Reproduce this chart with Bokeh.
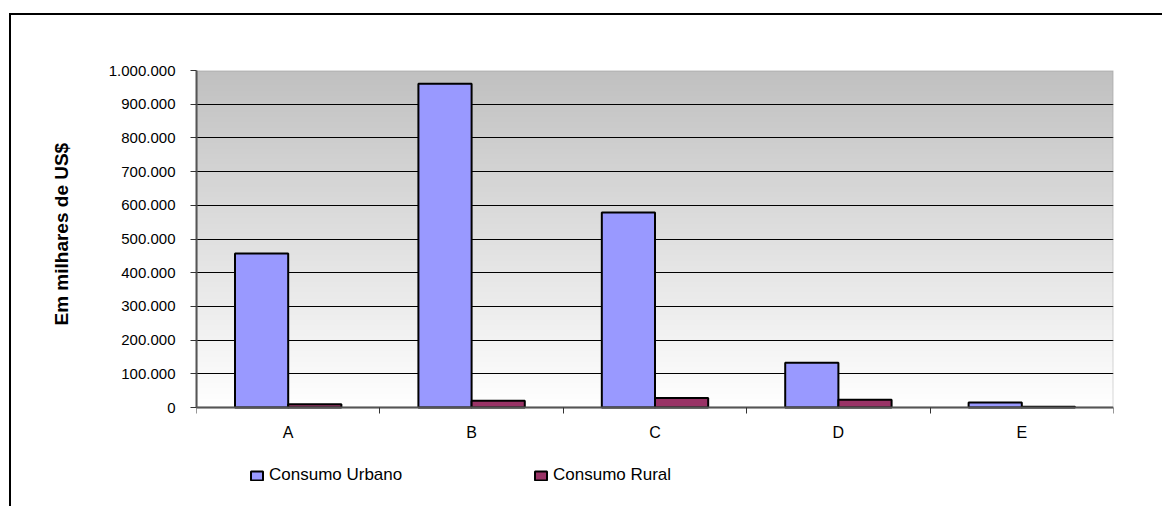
import numpy as np
from bokeh.plotting import figure
from bokeh.models import (FixedTicker, Legend, LegendItem, LinearColorMapper,
                          ColumnDataSource, BoxAnnotation, Title)
from bokeh.embed import file_html
from bokeh.resources import INLINE

# ---- data ----
categories = ["A", "B", "C", "D", "E"]
consumo_urbano = [457000, 961000, 579000, 133000, 15000]
consumo_rural = [10000, 20000, 28000, 23000, 2000]
y_ticks = list(range(0, 1000001, 100000))
y_tick_labels = [f"{v:,}".replace(",", ".") for v in y_ticks]
y_title = "Em milhares de US$"
series_names = ["Consumo Urbano", "Consumo Rural"]

FONT = "Liberation Sans"
n = len(categories)
y_max = 1000000
centers = np.arange(n) + 0.5
bar_w = 0.29
off = bar_w / 2

# layout (pixels)
W, H = 1153, 493
B_LEFT, B_RIGHT, B_TOP, B_BOTTOM = 185, 51, 55, 20
FRAME_H = H - B_TOP - B_BOTTOM
PLOT_H = 337                            # height of the 0..y_max plot area
y_start = -(FRAME_H - PLOT_H) / PLOT_H * y_max

p = figure(width=W, height=H, output_backend="svg", toolbar_location=None,
           x_range=(0, n), y_range=(y_start, y_max),
           x_axis_location="above",
           min_border_left=B_LEFT, min_border_right=B_RIGHT,
           min_border_top=B_TOP, min_border_bottom=B_BOTTOM,
           background_fill_color="white", border_fill_color="white")
p.margin = (13, 0, 0, 9)
p.styles = {"border-left": "2px solid black", "border-top": "2px solid black"}

# gradient plot-area background
grad = np.linspace(0, 1, 256).reshape(256, 1)
grays = ["#" + f"{int(round(255 - (255 - 192) * t)):02x}" * 3 for t in np.linspace(0, 1, 256)]
mapper = LinearColorMapper(palette=grays, low=0, high=1)
p.image(image=[grad], x=0, y=0, dw=n, dh=y_max, color_mapper=mapper, level="image")

p.add_layout(BoxAnnotation(left=0, right=n, bottom=0, top=y_max, fill_alpha=0,
                           line_color="#808080", line_width=2, level="underlay"))

src = ColumnDataSource(dict(xu=centers - off, xr=centers + off,
                            urbano=consumo_urbano, rural=consumo_rural))
r_u = p.vbar(x="xu", top="urbano", width=bar_w, source=src,
             fill_color="#9999FF", line_color="black", line_width=2)
r_r = p.vbar(x="xr", top="rural", width=bar_w, source=src,
             fill_color="#993366", line_color="black", line_width=2)

# x axis: drawn at y=0
xa = p.xaxis[0]
xa.fixed_location = 0
xa.ticker = FixedTicker(ticks=list(centers), minor_ticks=list(range(n + 1)))
xa.major_label_overrides = {float(c): lab for c, lab in zip(centers, categories)}
xa.major_tick_out = 0
xa.major_tick_in = 0
xa.minor_tick_out = 0
xa.minor_tick_in = 6
xa.minor_tick_line_color = "#333333"
xa.minor_tick_line_width = 1
xa.major_label_standoff = -33
xa.axis_line_color = "#555555"
xa.axis_line_width = 2
xa.major_label_text_font_size = "16px"

ya = p.yaxis[0]
ya.bounds = (0, y_max)
ya.ticker = FixedTicker(ticks=y_ticks, minor_ticks=[])
ya.major_label_overrides = {v: lab for v, lab in zip(y_ticks, y_tick_labels)}
ya.major_tick_out = 6
ya.major_tick_in = 0
ya.major_tick_line_color = "#333333"
ya.major_label_standoff = 15
ya.axis_line_color = "#555555"
ya.axis_line_width = 2
ya.major_label_text_font_size = "15px"

for ax in (xa, ya):
    ax.major_label_text_font = FONT
    ax.major_label_text_color = "black"

title_len = 183  # approx. rendered length of the title text
p.add_layout(Title(text=y_title, align="left", vertical_align="bottom",
                   offset=int(round((FRAME_H - PLOT_H) + PLOT_H / 2 + 5 - title_len / 2)),
                   standoff=68, text_font=FONT, text_font_style="bold",
                   text_font_size="19px", text_color="black"), "left")

p.xgrid.visible = False
p.ygrid.ticker = FixedTicker(ticks=y_ticks[1:-1])
p.ygrid.grid_line_color = "black"
p.ygrid.grid_line_width = 1

p.outline_line_color = None

legend = Legend(items=[LegendItem(label=series_names[0], renderers=[r_u]),
                       LegendItem(label=series_names[1], renderers=[r_r])],
                orientation="horizontal", location=(53, 3),
                padding=0, margin=0, spacing=0, label_width=264, label_height=12,
                glyph_width=15, glyph_height=11, label_standoff=5,
                border_line_color=None, background_fill_alpha=0,
                label_text_font=FONT, label_text_font_size="17px",
                label_text_color="black")
p.add_layout(legend)

open("out.html", "w").write(file_html(p, INLINE))
